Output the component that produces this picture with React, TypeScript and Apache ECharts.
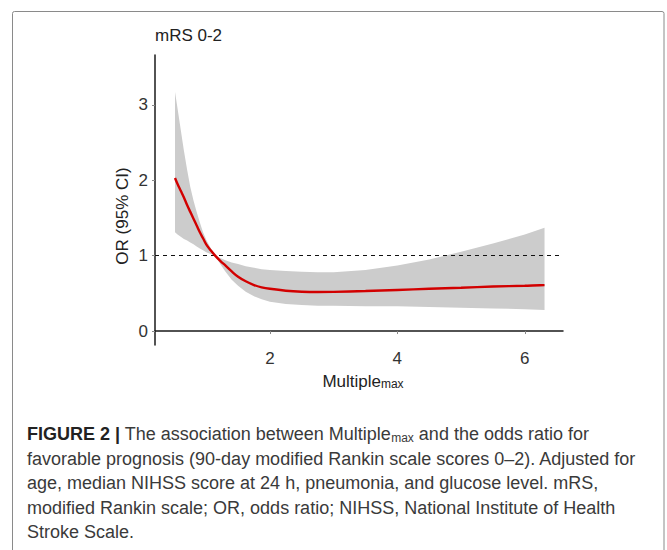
import React, { useEffect, useRef } from "react";
import * as echarts from "echarts";

const xValues = [0.51, 0.55, 0.6, 0.65, 0.7, 0.75, 0.8, 0.85, 0.9, 0.95, 1.0, 1.07, 1.14, 1.22, 1.3, 1.4, 1.5, 1.62, 1.75, 1.87, 2.0, 2.25, 2.5, 2.75, 3.0, 3.5, 4.0, 4.5, 5.0, 5.5, 6.0, 6.31];
const orValues = [2.03, 1.95, 1.86, 1.77, 1.67, 1.58, 1.49, 1.4, 1.31, 1.23, 1.15, 1.07, 1.0, 0.93, 0.87, 0.79, 0.72, 0.66, 0.61, 0.58, 0.56, 0.535, 0.522, 0.518, 0.52, 0.53, 0.545, 0.56, 0.575, 0.59, 0.6, 0.61];
const upperCI = [3.17, 2.95, 2.67, 2.39, 2.14, 1.91, 1.73, 1.58, 1.44, 1.31, 1.21, 1.1, 1.0, 0.97, 0.94, 0.91, 0.89, 0.86, 0.84, 0.82, 0.81, 0.795, 0.785, 0.78, 0.78, 0.81, 0.87, 0.95, 1.05, 1.16, 1.28, 1.37];
const lowerCI = [1.31, 1.28, 1.25, 1.22, 1.2, 1.175, 1.15, 1.12, 1.095, 1.07, 1.045, 1.02, 1.0, 0.89, 0.79, 0.68, 0.6, 0.52, 0.46, 0.42, 0.39, 0.36, 0.345, 0.337, 0.335, 0.33, 0.33, 0.32, 0.31, 0.3, 0.29, 0.28];
const xTicks = [2, 4, 6];
const yTicks = [0, 1, 2, 3];
const referenceOR = 1;

const captionLines = [
  "{b|FIGURE 2 |} The association between Multiple{s|max} and the odds ratio for",
  "favorable prognosis (90-day modified Rankin scale scores 0–2). Adjusted for",
  "age, median NIHSS score at 24 h, pneumonia, and glucose level. mRS,",
  "modified Rankin scale; OR, odds ratio; NIHSS, National Institute of Health",
  "Stroke Scale.",
];

const FONT = "Liberation Sans, Arial, sans-serif";

export default function App() {
  const ref = useRef<HTMLDivElement>(null);
  useEffect(() => {
    if (!ref.current) return;
    const chart = echarts.init(ref.current, undefined, { renderer: "svg" });
    const bandData = xValues.map((x, i) => [x, upperCI[i], lowerCI[i]]);
    const orData = xValues.map((x, i) => [x, orValues[i]]);
    const captionY0 = 434;
    const captionStep = 24.5;
    const capSize = 18;
    chart.setOption({
      animation: false,
      backgroundColor: "#ffffff",
      grid: { left: 155, top: 55, right: 104, bottom: 205, containLabel: false },
      xAxis: {
        type: "value",
        min: 0.196,
        max: 6.6,
        axisLine: { show: true, lineStyle: { color: "#1a1a1a", width: 1.5 } },
        axisTick: { show: true, length: 3, customValues: xTicks, lineStyle: { color: "#888" } },
        axisLabel: { customValues: xTicks, color: "#333", fontSize: 17, fontFamily: FONT, margin: 5 },
        splitLine: { show: false },
      },
      yAxis: {
        type: "value",
        min: -0.185,
        max: 3.66,
        axisLine: { show: true, lineStyle: { color: "#1a1a1a", width: 1.5 } },
        axisTick: { show: true, length: 3, customValues: yTicks, lineStyle: { color: "#888" } },
        axisLabel: { customValues: yTicks, color: "#333", fontSize: 17, fontFamily: FONT, margin: 7 },
        splitLine: { show: false },
      },
      series: [
        {
          type: "custom",
          data: bandData,
          encode: { x: 0, y: [1, 2] },
          silent: true,
          z: 1,
          renderItem: (params: any, api: any) => {
            if (params.dataIndex !== 0) return null;
            const upper = xValues.map((x, i) => api.coord([x, upperCI[i]]));
            const lower = xValues.map((x, i) => api.coord([x, lowerCI[i]])).reverse();
            return {
              type: "polygon",
              shape: { points: upper.concat(lower) },
              style: { fill: "#cccccc", stroke: "none" },
            };
          },
        },
        {
          type: "line",
          data: orData,
          symbol: "none",
          smooth: 0.4,
          lineStyle: { color: "#d20000", width: 2.4 },
          markLine: {
            silent: true,
            symbol: "none",
            label: { show: false },
            lineStyle: { color: "#111", width: 1, type: [4, 4] },
            data: [{ yAxis: referenceOR }],
          },
          z: 5,
        },
      ],
      graphic: [
        {
          type: "rect",
          shape: { x: 12.5, y: 11.5, width: 651.5, height: 560, r: 2 },
          style: { fill: "none", stroke: "#8a8a8a", lineWidth: 1 },
          silent: true,
        },
        {
          type: "text",
          x: 155,
          y: 35,
          style: { text: "mRS 0-2", fill: "#222", fontSize: 17, fontFamily: FONT, textVerticalAlign: "middle" },
        },
        {
          type: "text",
          x: 122,
          y: 216,
          rotation: Math.PI / 2,
          style: {
            text: "OR (95% CI)",
            fill: "#222",
            fontSize: 17,
            fontFamily: FONT,
            textAlign: "center",
            textVerticalAlign: "middle",
          },
        },
        {
          type: "text",
          x: 363,
          y: 381,
          style: {
            text: "Multiple{s|max}",
            fill: "#222",
            fontSize: 17,
            fontFamily: FONT,
            textAlign: "center",
            textVerticalAlign: "middle",
            rich: { s: { fontSize: 12, fill: "#222", fontFamily: FONT, padding: [6, 0, 0, 0] } },
          },
        },
        ...captionLines.map((line, i) => ({
          type: "text",
          x: 27,
          y: captionY0 + i * captionStep,
          style: {
            text: line,
            fill: "#3a3a3a",
            fontSize: capSize,
            fontFamily: FONT,
            textVerticalAlign: "middle",
            rich: {
              b: { fontWeight: "bold", fill: "#222", fontSize: capSize, fontFamily: FONT },
              s: { fontSize: 12, fill: "#3a3a3a", fontFamily: FONT, padding: [7, 0, 0, 0] },
            },
          },
        })),
      ],
    });
    return () => chart.dispose();
  }, []);
  return <div ref={ref} style={{ position: "fixed", left: 0, top: 0, width: 667, height: 550 }} />;
}
